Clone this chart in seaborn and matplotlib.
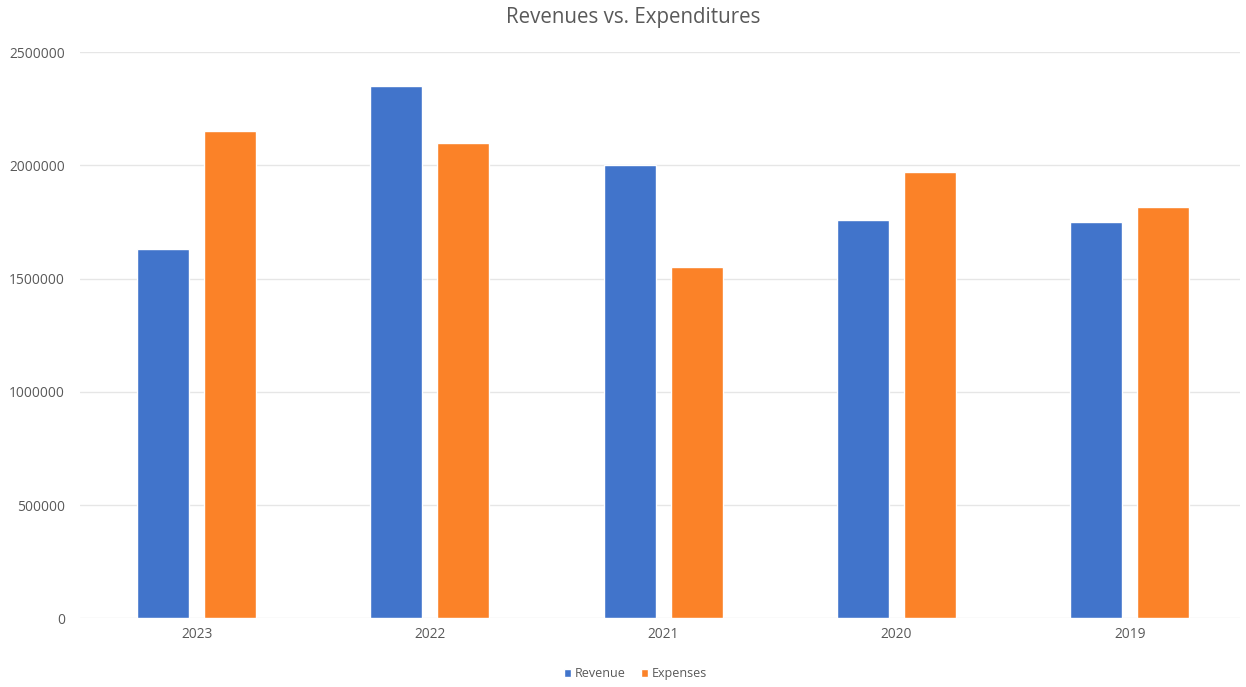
import matplotlib
matplotlib.use("Agg")
import matplotlib.pyplot as plt
import seaborn as sns
import pandas as pd

years = ["2023", "2022", "2021", "2020", "2019"]
revenue = [1630000, 2350000, 2000000, 1760000, 1750000]
expenses = [2150000, 2100000, 1550000, 1970000, 1815000]
series_names = ["Revenue", "Expenses"]
colors = ["#4174CB", "#FB8228"]
y_ticks = [0, 500000, 1000000, 1500000, 2000000, 2500000]

df = pd.DataFrame({
    "Year": years * 2,
    "Value": revenue + expenses,
    "Series": [series_names[0]] * len(years) + [series_names[1]] * len(years),
})

sns.set_style("white")
plt.rcParams["font.family"] = ["Open Sans", "DejaVu Sans"]

fig = plt.figure(figsize=(12.46, 6.87), dpi=100)
ax = fig.add_axes([80 / 1246, 0.100, 1160 / 1246, 0.8243])

sns.barplot(data=df, x="Year", y="Value", hue="Series", order=years,
            hue_order=series_names, palette=colors, width=0.574, gap=0.223,
            saturation=1, ax=ax, legend=True)

ax.set_ylim(0, 2500000)
ax.set_xlim(-0.5, 4.472)
ax.set_yticks(y_ticks)
ax.set_yticklabels([str(v) for v in y_ticks])
ax.yaxis.grid(True, color="#E6E6E6", linewidth=1)
ax.set_axisbelow(True)
for s in ax.spines.values():
    s.set_visible(False)
ax.tick_params(axis="both", length=0, labelsize=9.9, colors="#595959")
ax.tick_params(axis="y", pad=10.8)
ax.tick_params(axis="x", pad=6)
ax.set_xlabel("")
ax.set_ylabel("")

fig.text(633 / 1246, 1 - 17 / 687, "Revenues vs. Expenditures", fontsize=14.8,
         color="#595959", ha="center", va="center")

h, l = ax.get_legend_handles_labels()
ax.legend_.remove()
fig.legend(h, l, loc="center", bbox_to_anchor=(0.51, 0.019), ncol=2, frameon=False,
           fontsize=9, handlelength=0.6, handleheight=0.6, handletextpad=0.3,
           columnspacing=1.2, labelcolor="#595959")

fig.savefig("out.png", dpi=100)
